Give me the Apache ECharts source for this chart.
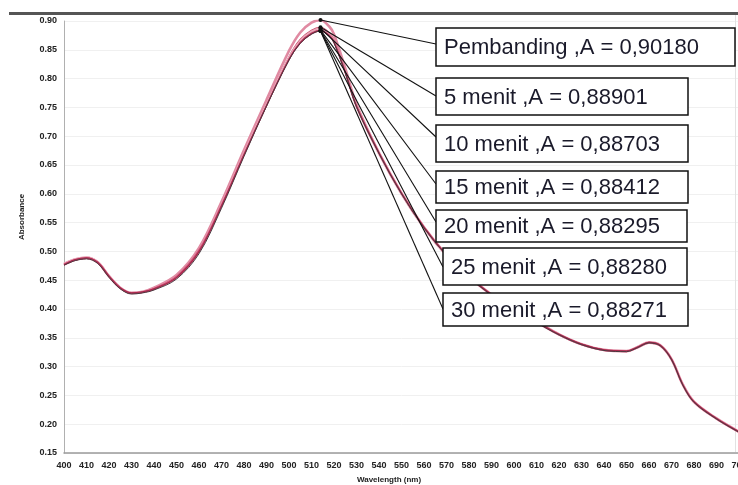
<!DOCTYPE html>
<html><head><meta charset="utf-8">
<script src="https://cdn.jsdelivr.net/npm/echarts@6/dist/echarts.min.js"></script>
<style>html,body{margin:0;padding:0;background:#fff}#c{width:738px;height:485px}</style>
</head><body><div id="c"></div>
<script>
const wavelengths = [400,405,410,415,420,425,430,435,440,450,460,470,480,490,500,505,510,514,518,520,525,530,540,550,560,570,580,590,600,610,620,630,640,650,655,660,665,670,675,680,690,700];
const pembanding = [0.478,0.486,0.489,0.481,0.457,0.437,0.428,0.430,0.437,0.459,0.506,0.586,0.676,0.763,0.848,0.880,0.897,0.9018,0.890,0.877,0.818,0.755,0.671,0.601,0.542,0.494,0.456,0.425,0.398,0.378,0.356,0.339,0.329,0.327,0.334,0.342,0.337,0.313,0.269,0.239,0.210,0.187];
const menit5 = [0.476,0.485,0.488,0.480,0.456,0.436,0.427,0.429,0.435,0.456,0.502,0.581,0.670,0.756,0.838,0.868,0.884,0.88901,0.879,0.867,0.812,0.752,0.670,0.600,0.541,0.493,0.455,0.424,0.397,0.377,0.355,0.338,0.328,0.326,0.333,0.341,0.336,0.312,0.268,0.238,0.209,0.186];
const menit10 = [0.479,0.487,0.490,0.482,0.458,0.437,0.428,0.430,0.436,0.457,0.503,0.582,0.671,0.756,0.837,0.866,0.882,0.88703,0.877,0.865,0.811,0.751,0.669,0.599,0.540,0.492,0.455,0.424,0.397,0.376,0.355,0.338,0.328,0.326,0.333,0.341,0.336,0.312,0.268,0.238,0.209,0.186];
const menit15 = [0.477,0.485,0.488,0.481,0.457,0.436,0.427,0.429,0.434,0.454,0.499,0.578,0.667,0.753,0.834,0.863,0.879,0.88412,0.875,0.864,0.811,0.752,0.671,0.601,0.542,0.494,0.456,0.425,0.398,0.377,0.356,0.339,0.329,0.327,0.334,0.342,0.337,0.313,0.269,0.239,0.210,0.187];
const menit20 = [0.478,0.486,0.489,0.481,0.457,0.437,0.428,0.430,0.436,0.457,0.503,0.581,0.669,0.753,0.833,0.862,0.878,0.88295,0.874,0.863,0.810,0.751,0.670,0.600,0.541,0.493,0.455,0.424,0.397,0.377,0.355,0.338,0.328,0.326,0.333,0.341,0.336,0.312,0.268,0.238,0.209,0.186];
const menit25 = [0.477,0.486,0.489,0.481,0.457,0.437,0.428,0.430,0.435,0.455,0.500,0.579,0.668,0.753,0.833,0.862,0.878,0.88280,0.874,0.863,0.811,0.752,0.671,0.601,0.542,0.494,0.456,0.425,0.398,0.378,0.356,0.339,0.329,0.327,0.334,0.342,0.337,0.313,0.269,0.239,0.210,0.187];
const menit30 = [0.476,0.484,0.487,0.479,0.455,0.435,0.426,0.428,0.433,0.452,0.496,0.575,0.665,0.752,0.832,0.861,0.877,0.88271,0.873,0.862,0.810,0.751,0.670,0.600,0.541,0.493,0.455,0.424,0.397,0.376,0.355,0.338,0.328,0.326,0.333,0.341,0.336,0.312,0.268,0.238,0.209,0.186];
const seriesNames = ['Pembanding','5 menit','10 menit','15 menit','20 menit','25 menit','30 menit'];
const peakWavelength = 514;
const peakValues = [0.90180,0.88901,0.88703,0.88412,0.88295,0.88280,0.88271];
const peakLabels = ['Pembanding ,A = 0,90180','5 menit ,A = 0,88901','10 menit ,A = 0,88703','15 menit ,A = 0,88412','20 menit ,A = 0,88295','25 menit ,A = 0,88280','30 menit ,A = 0,88271'];
const yTickMin = 0.15, yTickMax = 0.90, yTickStep = 0.05;
const xTickMin = 400, xTickMax = 700, xTickStep = 10;

const allValues = [pembanding, menit5, menit10, menit15, menit20, menit25, menit30];
const colors = ['#e08aa2','#c23a5c','#eaa8ba','#b8335a','#d0557a','#a8284c','#4a3a40'];
const widths = [2.6,1.3,1.8,1.2,1.2,1.1,1.0];

const chart = echarts.init(document.getElementById('c'), null, {renderer:'canvas'});
const series = allValues.map((vals, i) => ({
  name: seriesNames[i], type:'line', smooth:0.35, symbol:'none',
  data: wavelengths.map((w, j) => [w, vals[j]]),
  lineStyle:{color:colors[i], width:widths[i]}, z: 2 + i
}));
chart.setOption({
  animation:false,
  backgroundColor:'#fff',
  grid:{left:64, width:675, top:21, height:432, containLabel:false, outerBoundsMode:'none'},
  xAxis:{type:'value', min:xTickMin, max:xTickMax, interval:xTickStep,
    axisLine:{show:true, lineStyle:{color:'#9a9a9a', width:1.5}},
    axisTick:{show:false}, splitLine:{show:false},
    axisLabel:{color:'#222', fontSize:9, fontWeight:'bold', fontFamily:'Liberation Sans', margin:8}},
  yAxis:{type:'value', min:yTickMin, max:yTickMax, interval:yTickStep,
    axisLine:{show:true, lineStyle:{color:'#b0b0b0', width:1}},
    axisTick:{show:false},
    splitLine:{show:true, lineStyle:{color:'#f0f0f0', width:1}},
    axisLabel:{color:'#222', fontSize:9, fontWeight:'bold', fontFamily:'Liberation Sans', margin:7,
      formatter: v => v.toFixed(2)}},
  series: series
});

const boxes = [
  {x:436,y:28,w:299,h:38,ey:44,fs:22},
  {x:436,y:78,w:252,h:37,ey:96,fs:22},
  {x:436,y:125,w:252,h:37,ey:137,fs:22},
  {x:436,y:171,w:252,h:32,ey:184,fs:22},
  {x:436,y:210,w:251,h:32,ey:222,fs:22},
  {x:443,y:248,w:244,h:37,ey:267,fs:22},
  {x:443,y:293,w:245,h:33,ey:309,fs:22}
];
const graphics = [
  {type:'line', shape:{x1:9,y1:13.5,x2:738,y2:13.5}, style:{stroke:'#555', lineWidth:3}, z:100},
  {type:'line', shape:{x1:735.5,y1:15,x2:735.5,y2:452}, style:{stroke:'#e2e2e2', lineWidth:1}, z:1},
  {type:'text', x:22, y:217, rotation:Math.PI/2, style:{text:'Absorbance', fill:'#222', font:'bold 8px "Liberation Sans"', textAlign:'center', textVerticalAlign:'middle'}, z:100},
  {type:'text', x:389, y:480, style:{text:'Wavelength (nm)', fill:'#222', font:'bold 8px "Liberation Sans"', textAlign:'center', textVerticalAlign:'middle'}, z:100}
];
boxes.forEach((b, i) => {
  const p = chart.convertToPixel({gridIndex:0}, [peakWavelength, peakValues[i]]);
  graphics.push({type:'line', shape:{x1:p[0], y1:p[1], x2:b.x, y2:b.ey}, style:{stroke:'#111', lineWidth:1.1}, z:50});
  graphics.push({type:'circle', shape:{cx:p[0], cy:p[1], r:2}, style:{fill:'#111'}, z:51});
  graphics.push({type:'rect', shape:{x:b.x, y:b.y, width:b.w, height:b.h}, style:{fill:'#fff', stroke:'#111', lineWidth:1.5}, z:60});
  graphics.push({type:'text', x:b.x + 8, y:b.y + b.h/2 + 1, style:{text:peakLabels[i], fill:'#1a1a2a', font:b.fs + 'px "Liberation Sans"', textVerticalAlign:'middle'}, z:61});
});
chart.setOption({graphic:graphics});
</script></body></html>
